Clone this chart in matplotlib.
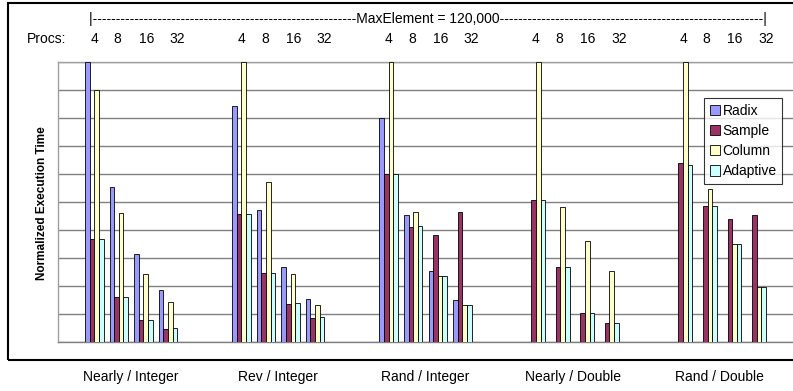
import numpy as np
import matplotlib
matplotlib.use("Agg")
import matplotlib.pyplot as plt
from matplotlib.patches import Rectangle
from matplotlib.transforms import blended_transform_factory

plt.rcParams['font.family'] = ['Liberation Sans', 'DejaVu Sans']

# Data: normalized execution time per input set and processor count
groups = ["Nearly / Integer", "Rev / Integer", "Rand / Integer",
          "Nearly / Double", "Rand / Double"]
procs = ["4", "8", "16", "32"]
series = ["Radix", "Sample", "Column", "Adaptive"]

radix = [[10.0, 5.54, 3.12, 1.86],
         [8.43, 4.69, 2.66, 1.54],
         [7.98, 4.54, 2.54, 1.50],
         [np.nan, np.nan, np.nan, np.nan],
         [np.nan, np.nan, np.nan, np.nan]]
sample = [[3.66, 1.59, 0.80, 0.45],
          [4.57, 2.46, 1.35, 0.85],
          [6.00, 4.11, 3.80, 4.64],
          [5.05, 2.66, 1.05, 0.66],
          [6.37, 4.85, 4.37, 4.54]]
column = [[9.00, 4.61, 2.42, 1.43],
          [10.0, 5.71, 2.41, 1.33],
          [10.0, 4.64, 2.37, 1.33],
          [10.0, 4.83, 3.61, 2.54],
          [10.0, 5.44, 3.50, 1.96]]
adaptive = [[3.66, 1.59, 0.80, 0.51],
            [4.57, 2.46, 1.38, 0.89],
            [6.00, 4.14, 2.37, 1.33],
            [5.07, 2.66, 1.05, 0.66],
            [6.32, 4.85, 3.50, 1.95]]

colors = ["#9999FF", "#993366", "#FFFFCC", "#CCFFFF"]

W, H = 793, 391
fig = plt.figure(figsize=(W / 100, H / 100), dpi=100)
ax = fig.add_axes([57.5 / W, 1 - 342 / H, 736 / W, 280.5 / H])

slots_per_group = 6
bar_w = 0.188
values = [radix, sample, column, adaptive]
for k, (name, vals, col) in enumerate(zip(series, values, colors)):
    arr = np.array(vals, dtype=float)
    xs, hs = [], []
    for g in range(len(groups)):
        for p in range(len(procs)):
            if np.isnan(arr[g, p]):
                continue
            center = g * slots_per_group + 1 + p + 0.5
            xs.append(center + (k - 1.5) * bar_w)
            hs.append(arr[g, p])
    ax.bar(xs, hs, width=bar_w, color=col, edgecolor="black",
           linewidth=0.6, label=name, zorder=3)

ax.set_xlim(0, len(groups) * slots_per_group)
ax.set_ylim(0, 10)
ax.set_yticks(np.arange(0, 11, 1))
ax.set_xticks([])
ax.tick_params(axis="y", length=0, labelleft=False)
ax.grid(axis="y", color="#808080", linewidth=1.0, zorder=0)
ax.set_axisbelow(True)
for side in ["left", "top", "bottom"]:
    ax.spines[side].set_color("#a0a0a0")
    ax.spines[side].set_linewidth(1.0)
ax.spines["bottom"].set_color("#808080")
ax.spines["right"].set_visible(False)

trans = blended_transform_factory(ax.transData, ax.transAxes)

# Group names under the plot
for g, name in enumerate(groups):
    ax.text(g * slots_per_group + 3, -0.125, name, transform=trans,
            ha="center", va="center", fontsize=10)

# Processor counts above the plot
label_shift = [0.0, -0.05, 0.12, 0.38]
for g in range(len(groups)):
    for p, lab in enumerate(procs):
        x = g * slots_per_group + 1 + p + 0.5 + label_shift[p]
        ax.text(x, 1.080, lab, transform=trans, ha="center", va="center",
                fontsize=10)
fig.text(46.5 / W, 1 - 39 / H, "Procs:", ha="center", va="center",
         fontsize=10)

header = "|" + "-" * 57 + "MaxElement = 120,000" + "-" * 57 + "|"
fig.text(428 / W, 1 - 19 / H, header, ha="center", va="center", fontsize=10)

fig.text(42 / W, 1 - 203 / H, "Normalized Execution Time", rotation=90,
         ha="center", va="center", fontsize=8.5, fontweight="bold")

leg = ax.legend(loc="upper left", bbox_to_anchor=(0.879, 0.870),
                fontsize=10, frameon=True, fancybox=False, shadow=False,
                handlelength=0.75, handleheight=0.75, handletextpad=0.15,
                labelspacing=0.45, borderpad=0.4, borderaxespad=0.0)
leg.get_frame().set_edgecolor("black")
leg.get_frame().set_linewidth(0.8)
leg.set_zorder(5)

# Outer chart border
fig.patches.append(Rectangle((8 / W, 1 - 360 / H), 1.0, (357) / H,
                             transform=fig.transFigure, fill=False,
                             edgecolor="black", linewidth=1.5, clip_on=False))

fig.savefig("out.png", dpi=100)
